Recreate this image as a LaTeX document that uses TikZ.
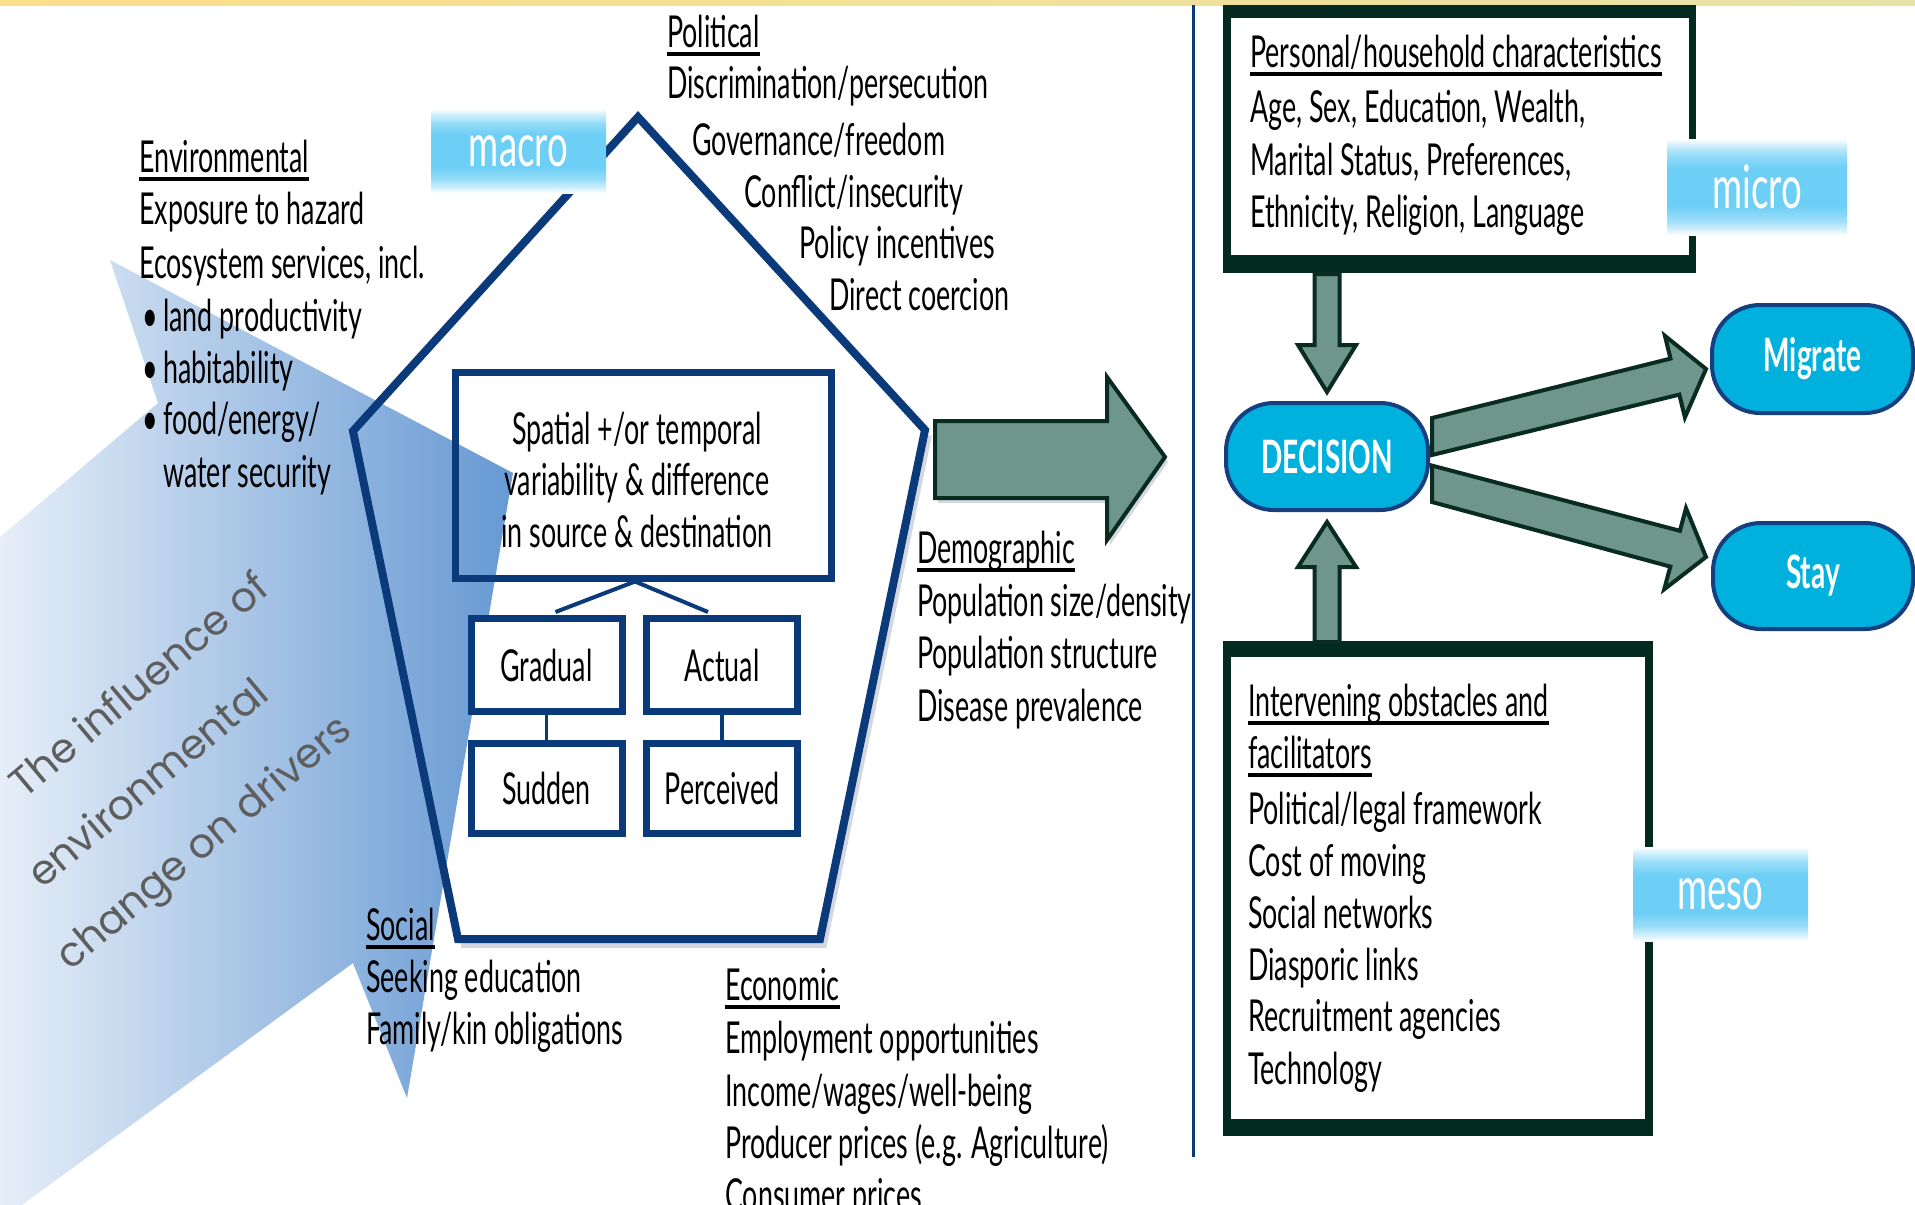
\documentclass[tikz,border=0pt]{standalone}
\usepackage{fontspec}
\newfontfamily\gs[FakeStretch=0.61]{Lato}
\newfontfamily\gth{Poppins}
\usetikzlibrary{calc}
\definecolor{navy}{HTML}{0B3A7A}
\definecolor{shadowc}{HTML}{D3D8E0}
\definecolor{envblue}{HTML}{6699D3}
\definecolor{inflgray}{HTML}{5E5E5E}
\definecolor{dkg}{HTML}{022A1E}
\definecolor{greenf}{HTML}{6E968C}
\definecolor{greend}{HTML}{0A2B20}
\definecolor{cyanf}{HTML}{00B1DD}
\definecolor{pillb}{HTML}{163F80}
\definecolor{lblue}{HTML}{6ECFF6}
\colorlet{lblueL}{lblue!30!white}
\colorlet{lblueM}{lblue!70!white}
\definecolor{ylwA}{HTML}{FCE08A}
\definecolor{ylwB}{HTML}{E7E2A6}
\pgfdeclareverticalshading{lvlshade}{100bp}{color(0bp)=(white); color(25bp)=(white); color(28bp)=(lblueL); color(33bp)=(lblueM); color(40bp)=(lblue); color(60bp)=(lblue); color(67bp)=(lblueM); color(72bp)=(lblueL); color(75bp)=(white); color(100bp)=(white)}
\tikzset{
  txt/.style={anchor=base west, inner sep=0pt, font=\gs\fontsize{44}{52}\selectfont, text=black},
  ctxt/.style={txt, anchor=base},
  uline/.style={line width=3.5pt},
  smallbox/.style={draw=navy, line width=7pt, fill=white, inner sep=0pt, font=\gs\fontsize{44}{52}\selectfont, minimum width=151pt},
  pill/.style={draw=pillb, line width=4pt, fill=cyanf, rounded corners=48pt, text=white, inner sep=0pt, font=\gs\bfseries\fontsize{46}{50}\selectfont},
  garrow/.style={fill=greenf, draw=greend, line width=4pt, line join=miter},
  lvl/.style={shade, shading=lvlshade, text=white, inner sep=0pt, font=\gs\fontsize{60}{60}\selectfont},
  infl/.style={anchor=base west, rotate=40, inner sep=0pt, text=inflgray, font=\gth\fontsize{41}{41}\selectfont},
  conn/.style={draw=navy, line width=4pt},
}
\begin{document}
\begin{tikzpicture}[x=1pt,y=-1pt]
\useasboundingbox (0,0) rectangle (1915,1205);
\clip (0,0) rectangle (1915,1205);
\fill[white] (0,0) rectangle (1915,1205);
\shade[left color=ylwA, right color=ylwB] (0,0) rectangle (1915,5);

% influence arrow
\shade[left color=white, right color=envblue] (110,260) -- (513,473) -- (407,1098) -- (353,963) -- (-100,1294) -- (-100,622) -- (158,403) -- cycle;
\node[infl] (inf1) at (24,800) {The influence of};
\node[infl] (inf2) at (42,890) {environmental};
\node[infl] (inf3) at (70,972) {change on drivers};

% pentagon
\draw[line width=8pt, draw=shadowc, line join=miter] (461,944) -- (823,944) -- (928,435);
\draw[line width=8pt, draw=navy, line join=miter] (638,117) -- (925,430) -- (820,939) -- (458,939) -- (353,431) -- cycle;

% inner boxes
\node[draw=navy, line width=7pt, minimum width=376pt, minimum height=206pt, inner sep=0pt] (spatial) at (643,475) {};
\node[ctxt] (sp1) at (637,444) {Spatial +/or temporal};
\node[ctxt] (sp2) at (637,495) {variability \& difference};
\node[ctxt] (sp3) at (637,547) {in source \& destination};
\node[smallbox, minimum height=93pt] (gradual) at (546.5,665) {Gradual};
\node[smallbox, minimum height=93pt] (actual) at (722,665) {Actual};
\node[smallbox, minimum height=90pt] (sudden) at (546.5,788.5) {Sudden};
\node[smallbox, minimum height=90pt] (perceived) at (722,788.5) {Perceived};
\draw[conn] ([xshift=-8pt]spatial.south) -- ([xshift=9pt,yshift=3pt]gradual.north);
\draw[conn] ([xshift=-8pt]spatial.south) -- ([xshift=-14pt,yshift=3pt]actual.north);
\draw[conn, line width=3.5pt] (gradual.south) -- (sudden.north);
\draw[conn, line width=3.5pt] (actual.south) -- (perceived.north);

% Political
\node[txt] (polh) at (667,47) {Political};
\draw[uline] ([yshift=-7pt]polh.base west) -- ([yshift=-7pt]polh.base east);
\node[txt] (pol1) at (667,98) {Discrimination/persecution};
\node[txt] (pol2) at (692,155) {Governance/freedom};
\node[txt] (pol3) at (744,207) {Conflict/insecurity};
\node[txt] (pol4) at (799,258) {Policy incentives};
\node[txt] (pol5) at (829,310) {Direct coercion};

% Environmental
\node[txt] (envh) at (139,172) {Environmental};
\draw[uline] ([yshift=-7pt]envh.base west) -- ([yshift=-7pt]envh.base east);
\node[txt] (env1) at (139,224) {Exposure to hazard};
\node[txt] (env2) at (139,278) {Ecosystem services, incl.};
\node[txt] (bul1) at (142,331) {•};
\node[txt] (env3) at (163,331) {land productivity};
\node[txt] (bul2) at (142,383) {•};
\node[txt] (env4) at (163,383) {habitability};
\node[txt] (bul3) at (142,434) {•};
\node[txt] (env5) at (163,434) {food/energy/};
\node[txt] (env6) at (163,487) {water security};

% Demographic
\node[txt] (demh) at (917,563) {Demographic};
\draw[uline] ([yshift=-7pt]demh.base west) -- ([yshift=-7pt]demh.base east);
\node[txt] (dem1) at (917,616) {Population size/density};
\node[txt] (dem2) at (917,668) {Population structure};
\node[txt] (dem3) at (917,721) {Disease prevalence};

% Social
\node[txt] (soch) at (366,940) {Social};
\draw[uline] ([yshift=-7pt]soch.base west) -- ([yshift=-7pt]soch.base east);
\node[txt] (soc1) at (366,992) {Seeking education};
\node[txt] (soc2) at (366,1044) {Family/kin obligations};

% Economic
\node[txt] (ecoh) at (725,1000) {Economic};
\draw[uline] ([yshift=-7pt]ecoh.base west) -- ([yshift=-7pt]ecoh.base east);
\node[txt] (eco1) at (725,1053) {Employment opportunities};
\node[txt] (eco2) at (725,1106) {Income/wages/well-being};
\node[txt] (eco3) at (725,1158) {Producer prices (e.g. Agriculture)};
\node[txt] (eco4) at (725,1210) {Consumer prices};

% macro label
\node[lvl, minimum width=175pt, minimum height=84pt] (macro) at (518.5,151) {macro};

% big green arrow
\coordinate (bigA) at (935,459.5);
\begin{scope}[shift={(bigA)}]
\fill[shadowc] (3,-33.5) -- (175,-33.5) -- (175,-77.5) -- (233,2.5) -- (175,85.5) -- (175,43.5) -- (3,43.5) -- cycle;
\draw[garrow] (0,-38.5) -- (172,-38.5) -- (172,-82.5) -- (230,-2.5) -- (172,80.5) -- (172,38.5) -- (0,38.5) -- cycle;
\end{scope}

% divider
\draw[navy, line width=3pt] (1193,5) -- (1193,1157);

% personal box
\node[fill=dkg, minimum width=473pt, minimum height=268pt, inner sep=0pt] (persO) at (1459.5,139) {};
\node[fill=white, minimum width=458pt, minimum height=237pt, inner sep=0pt] (persI) at (1460,136.5) {};
\node[txt] (ph) at (1250,67) {Personal/household characteristics};
\draw[uline] ([yshift=-7pt]ph.base west) -- ([yshift=-7pt]ph.base east);
\node[txt] (p1) at (1250,122) {Age, Sex, Education, Wealth,};
\node[txt] (p2) at (1250,175) {Marital Status, Preferences,};
\node[txt] (p3) at (1250,227) {Ethnicity, Religion, Language};

% intervening box
\node[fill=dkg, minimum width=430pt, minimum height=495pt, inner sep=0pt] (intO) at (1438,888) {};
\node[fill=white, minimum width=414pt, minimum height=462pt, inner sep=0pt] (intI) at (1438,888) {};
\node[txt] (ih1) at (1248,716) {Intervening obstacles and};
\draw[uline] ([yshift=-7pt]ih1.base west) -- ([yshift=-7pt]ih1.base east);
\node[txt] (ih2) at (1248,768) {facilitators};
\draw[uline] ([yshift=-7pt]ih2.base west) -- ([yshift=-7pt]ih2.base east);
\node[txt] (i1) at (1248,824) {Political/legal framework};
\node[txt] (i2) at (1248,876) {Cost of moving};
\node[txt] (i3) at (1248,928) {Social networks};
\node[txt] (i4) at (1248,980) {Diasporic links};
\node[txt] (i5) at (1248,1031) {Recruitment agencies};
\node[txt] (i6) at (1248,1084) {Technology};

% pills
\node[pill, minimum width=202pt, minimum height=107pt] (decision) at (1327,456.5) {DECISION};
\node[pill, minimum width=201pt, minimum height=108pt] (migrate) at (1812.5,359) {Migrate};
\node[pill, minimum width=200pt, minimum height=106pt] (stay) at (1813,576) {Stay};

% green arrows
\begin{scope}[shift={(decision.north)}]
\draw[garrow] (-12.5,-127) -- (12.5,-127) -- (12.5,-56) -- (29,-56) -- (0,-9) -- (-29,-56) -- (-12.5,-56) -- cycle;
\end{scope}
\begin{scope}[shift={(decision.south)}]
\draw[garrow] (-12.5,130) -- (12.5,130) -- (12.5,55) -- (29,55) -- (0,10) -- (-29,55) -- (-12.5,55) -- cycle;
\end{scope}
\begin{scope}[shift={(decision.east)}]
\draw[garrow] (2,-38.5) -- (240.5,-97.9) -- (234.9,-120.7) -- (276,-87.5) -- (254.9,-39.1) -- (249.3,-61.9) -- (2,-1.5) -- cycle;
\draw[garrow] (2,9.1) -- (249.9,74.3) -- (256,51.6) -- (276,100.5) -- (234.2,132.8) -- (240.3,110.1) -- (2,45.5) -- cycle;
\end{scope}

% level labels
\node[lvl, minimum width=180pt, minimum height=96pt] (micro) at (1757,187) {micro};
\node[lvl, minimum width=175pt, minimum height=94pt] (meso) at (1720.5,894) {meso};
\end{tikzpicture}
\end{document}
